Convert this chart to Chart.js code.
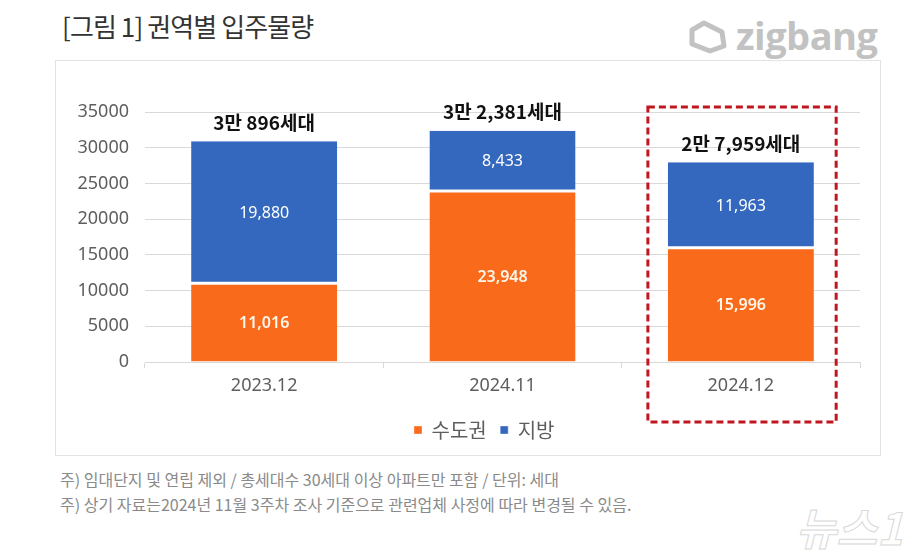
<!DOCTYPE html>
<html><head><meta charset="utf-8">
<script src="https://cdn.jsdelivr.net/npm/chart.js@4.4.1/dist/chart.umd.min.js"></script>
<style>
html,body{margin:0;padding:0;background:#fff;width:914px;height:556px;overflow:hidden;font-family:"Noto Sans CJK KR","Noto Sans",sans-serif;}
#title{position:absolute;left:62px;top:7px;font-size:26px;color:#333;letter-spacing:-0.9px;white-space:nowrap;}
#logo{position:absolute;left:686px;top:9px;color:#c2c2c2;font-family:"Open Sans","Noto Sans",sans-serif;font-weight:700;font-size:38px;letter-spacing:-0.5px;white-space:nowrap;}
#logo svg{vertical-align:-4px;margin-right:8px;}
#panel{position:absolute;left:55px;top:60px;width:824px;height:394px;border:1px solid #e3e3e3;}
#wrap{position:absolute;left:55px;top:60px;width:826px;height:396px;}
.note{position:absolute;left:60px;font-size:16px;color:#8a8a8a;letter-spacing:0px;white-space:nowrap;}
#wm{position:absolute;left:796px;top:494px;font-size:44px;font-weight:700;color:#fff;-webkit-text-stroke:1px #d8d8d8;font-style:italic;white-space:nowrap;}
</style></head>
<body>
<div id="title">[그림 1] 권역별 입주물량</div>
<div id="logo"><svg width="42" height="34" viewBox="0 0 42 34"><path d="M6 10 L18 3 L36 12 L38 26 L24 31 L6 24 Z" fill="none" stroke="#c2c2c2" stroke-width="5" stroke-linejoin="round"/></svg>zigbang</div>
<div id="panel"></div>
<div id="wrap"><canvas id="c" width="826" height="396"></canvas></div>
<div class="note" style="top:467px">주) 임대단지 및 연립 제외 / 총세대수 30세대 이상 아파트만 포함 / 단위: 세대</div>
<div class="note" style="top:492px">주) 상기 자료는2024년 11월 3주차 조사 기준으로 관련업체 사정에 따라 변경될 수 있음.</div>
<div id="wm">뉴스1</div>
<script>
const categories = ["2023.12", "2024.11", "2024.12"];
const metroValues = [11016, 23948, 15996];   // 수도권
const localValues = [19880, 8433, 11963];    // 지방
const totalLabels = ["3만 896세대", "3만 2,381세대", "2만 7,959세대"];
const seriesNames = ["수도권", "지방"];
const yTicks = [0, 5000, 10000, 15000, 20000, 25000, 30000, 35000];
const highlightIndex = 2;

const ORANGE = "#F96A1B", BLUE = "#3368BE", GRID = "#d9d9d9", TXT = "#5e5e5e";
const FONT = '"Noto Sans CJK KR","Noto Sans",sans-serif';
const NUMFONT = '"Noto Sans","Noto Sans CJK KR",sans-serif';

const labelPlugin = {
  id: "labels",
  afterLayout(chart) {
    chart.legend.left += 27; chart.legend.right += 27;
  },
  afterDatasetsDraw(chart) {
    const ctx = chart.ctx;
    const m0 = chart.getDatasetMeta(0), m1 = chart.getDatasetMeta(1);
    ctx.save();
    ctx.textAlign = "center"; ctx.textBaseline = "middle";
    categories.forEach((c, i) => {
      const b0 = m0.data[i], b1 = m1.data[i];
      ctx.fillStyle = "#fff6ea";
      ctx.font = "600 16px " + NUMFONT;
      ctx.fillText(metroValues[i].toLocaleString("en-US"), b0.x, (b0.y + b0.base) / 2 + 1);
      ctx.fillStyle = "#ffffff";
      ctx.font = "400 16px " + NUMFONT;
      ctx.fillText(localValues[i].toLocaleString("en-US"), b1.x, (b1.y + b1.base) / 2 + 1);
      ctx.fillStyle = "#111";
      ctx.font = "700 19px " + FONT;
      ctx.fillText(totalLabels[i], b1.x, b1.y - 19);
    });
    const xs = chart.scales.x, ys = chart.scales.y;
    const cw = xs.getPixelForValue(1) - xs.getPixelForValue(0);
    const cx = xs.getPixelForValue(highlightIndex);
    const left = cx - 0.39 * cw, right = cx + 0.40 * cw;
    const top = ys.getPixelForValue(35000) - 5, bottom = ys.getPixelForValue(0) + 60;
    ctx.strokeStyle = "#C0161E"; ctx.lineWidth = 3; ctx.setLineDash([7, 4]);
    ctx.strokeRect(left, top, right - left, bottom - top);
    ctx.restore();
  }
};

new Chart(document.getElementById("c"), {
  type: "bar",
  data: {
    labels: categories,
    datasets: [
      { label: seriesNames[0], data: metroValues, backgroundColor: ORANGE, borderColor: "#fff", borderWidth: {top: 1.5, bottom: 0, left: 0, right: 0}, borderSkipped: false, barPercentage: 0.613, categoryPercentage: 1 },
      { label: seriesNames[1], data: localValues, backgroundColor: BLUE, borderColor: "#fff", borderWidth: {top: 0, bottom: 1.5, left: 0, right: 0}, borderSkipped: false, barPercentage: 0.613, categoryPercentage: 1 }
    ]
  },
  options: {
    responsive: false, animation: false,
    layout: { padding: { top: 52, right: 21, bottom: 6, left: 0 } },
    plugins: {
      tooltip: { enabled: false },
      legend: {
        position: "bottom",
        labels: { usePointStyle: true, pointStyle: "rect", boxWidth: 7, boxHeight: 8, padding: 14, color: TXT, font: { family: FONT, size: 20 } }
      }
    },
    scales: {
      x: {
        stacked: true,
        grid: { display: true, drawOnChartArea: false, drawTicks: true, tickLength: 6, color: GRID, offset: true },
        border: { display: true, color: GRID, width: 1 },
        ticks: { color: TXT, font: { family: NUMFONT, size: 18 }, padding: 7 },
        afterFit(s) { s.height = 44; }
      },
      y: {
        stacked: true, min: 0, max: 35000,
        afterBuildTicks(s) { s.ticks = yTicks.map(v => ({ value: v })); },
        grid: { color: GRID, drawTicks: false },
        border: { display: false },
        ticks: { color: TXT, font: { family: NUMFONT, size: 18 }, padding: 16, callback: v => String(v) },
        afterFit(s) { s.width = 90; }
      }
    }
  },
  plugins: [labelPlugin]
});
</script>
</body></html>
